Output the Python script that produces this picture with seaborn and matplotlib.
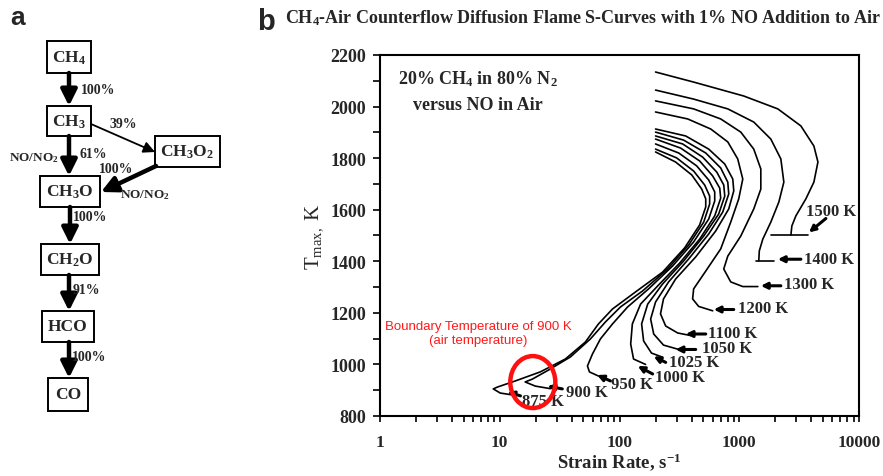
import numpy as np
import pandas as pd
import matplotlib
matplotlib.use("Agg")
import matplotlib.pyplot as plt
import seaborn as sns
from matplotlib.patches import Ellipse, Rectangle, FancyArrowPatch
from matplotlib.ticker import LogLocator, NullFormatter, FixedLocator, MultipleLocator

# ---------------- data ----------------
curve_names = ["1500 K", "1400 K", "1300 K", "1200 K", "1100 K", "1050 K",
               "1025 K", "1000 K", "950 K", "900 K", "875 K"]

strain_1500 = [200, 416, 1090, 2100, 3270, 4200, 4540, 4200, 3600, 2970, 2750, 2700]
T_1500 = [2134, 2095, 2041, 1991, 1925, 1847, 1785, 1707, 1642, 1576, 1537, 1502]
strain_1500_tail = [1835, 3725]
T_1500_tail = [1500, 1500]

strain_1400 = [200, 416, 802, 1322, 1835, 2225, 2357, 2142, 1835, 1573, 1470, 1456]
T_1400 = [2064, 2029, 1991, 1940, 1874, 1797, 1707, 1630, 1552, 1486, 1440, 1402]
strain_1400_tail = [1374, 1944]
T_1400_tail = [1400, 1400]

strain_1300 = [200, 416, 700, 1030, 1322, 1514, 1514, 1322, 1030, 802, 742, 849, 1070, 1430]
T_1300 = [2022, 1991, 1952, 1901, 1835, 1758, 1680, 1603, 1498, 1420, 1370, 1320, 1302, 1302]

strain_1200 = [200, 371, 578, 802, 971, 1070, 990, 849, 700, 525, 416, 408, 458, 600]
T_1200 = [1979, 1952, 1913, 1863, 1797, 1719, 1642, 1552, 1448, 1362, 1293, 1254, 1225, 1208]

strain_1100 = [200, 357, 556, 757, 883, 900, 817, 635, 433, 294, 233, 220, 243, 306, 393]
T_1100 = [1913, 1886, 1835, 1777, 1719, 1673, 1603, 1517, 1417, 1331, 1254, 1196, 1149, 1122, 1112]

strain_1050 = [200, 343, 525, 700, 802, 817, 728, 556, 378, 257, 200, 182, 193, 233, 324]
T_1050 = [1901, 1870, 1820, 1762, 1707, 1661, 1591, 1506, 1409, 1320, 1242, 1176, 1118, 1075, 1056]

strain_1025 = [200, 337, 495, 649, 742, 757, 673, 505, 343, 229, 172, 153, 159, 185, 229]
T_1025 = [1886, 1855, 1804, 1746, 1696, 1653, 1583, 1498, 1401, 1312, 1234, 1157, 1091, 1044, 1028]

strain_1000 = [200, 324, 467, 600, 687, 700, 624, 467, 318, 208, 150, 128, 124, 131, 165]
T_1000 = [1874, 1839, 1789, 1731, 1684, 1645, 1576, 1486, 1393, 1304, 1234, 1157, 1079, 1021, 1000]

strain_950 = [200, 312, 441, 556, 624, 624, 556, 416, 278, 175, 117, 87.4, 69.3, 59.4, 54, 56.1, 66.7]
T_950 = [1855, 1820, 1770, 1715, 1669, 1634, 1564, 1475, 1382, 1293, 1223, 1157, 1099, 1040, 994, 971, 955]

strain_900 = [200, 300, 416, 514, 566, 566, 505, 378, 252, 156, 102, 76.4, 57.2, 38.9, 25.5, 18.7, 16.3, 19.8, 26.5]
T_900 = [1835, 1801, 1750, 1696, 1653, 1622, 1552, 1463, 1370, 1285, 1223, 1165, 1099, 1029, 978, 943, 932, 916, 906]

strain_875 = [200, 294, 401, 486, 525, 525, 467, 350, 229, 136, 87.4, 66.7, 51.9, 35.3, 21.8, 13.5, 9.53, 8.83, 10.1, 13.5]
T_875 = [1824, 1785, 1735, 1680, 1642, 1611, 1541, 1452, 1358, 1281, 1215, 1157, 1087, 1021, 971, 936, 912, 905, 889, 880]

x_ticks = [1, 10, 100, 1000, 10000]
x_tick_labels = ["1", "10", "100", "1000", "10000"]
y_ticks = [800, 1000, 1200, 1400, 1600, 1800, 2000, 2200]

# label positions (strain, T), arrow start and end
label_xy = [(5830, 1595), (5610, 1410), (3820, 1310), (1573, 1217), (883, 1120),
            (786, 1062), (424, 1008), (318, 952), (128, 925), (53, 893), (23.1, 858)]
arrow_from = [(5290, 1566), (3270, 1408), (2225, 1305), (900, 1213), (525, 1118),
              (433, 1058), (243, 1008), (189, 963), (84, 936), (33.3, 905), (14.9, 878)]
arrow_to = [(3820, 1512), (2100, 1408), (1514, 1305), (612, 1213), (357, 1118),
            (294, 1058), (193, 1031), (142, 994), (65, 959), (25, 916), (11.6, 893)]

# flow chart (panel a)
species = [r"CH$_{\mathbf{4}}$", r"CH$_{\mathbf{3}}$", r"CH$_{\mathbf{3}}$O$_{\mathbf{2}}$",
           r"CH$_{\mathbf{3}}$O", r"CH$_{\mathbf{2}}$O", "HCO", "CO"]
edge_labels = ["100%", "61%", "39%", "100%", "100%", "91%", "100%"]

# ---------------- style ----------------
sns.set_theme(style="white")
plt.rcParams["font.family"] = ["Liberation Serif", "DejaVu Serif"]
plt.rcParams["mathtext.fontset"] = "custom"
plt.rcParams["mathtext.rm"] = "Liberation Serif"
plt.rcParams["mathtext.it"] = "Liberation Serif:italic"
plt.rcParams["mathtext.bf"] = "Liberation Serif:bold"
plt.rcParams["mathtext.default"] = "rm"

fig = plt.figure(figsize=(8.83, 4.77), dpi=100)

# overlay axes in pixel units for panel a and letters
ov = fig.add_axes([0, 0, 1, 1])
ov.set_xlim(0, 883)
ov.set_ylim(477, 0)
ov.axis("off")

box_geom = [(69, 58, 44, 32), (69, 122, 44, 30), (187, 152, 65, 31), (70, 192, 60, 31),
            (70, 260, 58, 31), (68, 327, 52, 31), (68, 395, 40, 33)]
for name, (cx, cy, w, h) in zip(species, box_geom):
    ov.add_patch(Rectangle((cx - w / 2, cy - h / 2), w, h, fill=False, lw=1.4, ec="black"))
    ov.text(cx, cy, name, ha="center", va="center", fontsize=12.5, fontweight="bold")

arrow_geom = [((69, 74), (69, 107), 3.2), ((69, 137), (69, 177), 3.2), ((91, 125), (155, 153), 1.3),
              ((156, 167), (101, 193), 3.2), ((70, 208), (70, 245), 3.2), ((69, 276), (69, 312), 3.2),
              ((69, 343), (69, 379), 3.2)]
for (a, b, lw) in arrow_geom:
    ov.add_patch(FancyArrowPatch(a, b, arrowstyle="-|>", lw=lw, color="black",
                                 mutation_scale=24 if lw > 2 else 17, shrinkA=0, shrinkB=0))

edge_label_pos = [(81, 90, "left"), (80, 155, "left"), (123, 124, "center"), (116, 170, "center"),
                  (73, 218, "left"), (73, 291, "left"), (72, 358, "left")]
for txt, (x, y, ha) in zip(edge_labels, edge_label_pos):
    ov.text(x, y, txt, ha=ha, va="center", fontsize=10, fontweight="bold")
ov.text(34, 158, r"NO/NO$_{\mathbf{2}}$", ha="center", va="center", fontsize=9.5, fontweight="bold")
ov.text(145, 195, r"NO/NO$_{\mathbf{2}}$", ha="center", va="center", fontsize=9.5, fontweight="bold")

ov.text(18, 18, "a", ha="center", va="center", fontsize=19, fontweight="bold",
        family=["Liberation Sans", "DejaVu Sans"])
ov.text(266, 22, "b", ha="center", va="center", fontsize=21, fontweight="bold",
        family=["Liberation Sans", "DejaVu Sans"])
ov.text(583, 18, r"CH$_{\mathbf{4}}$-Air Counterflow Diffusion Flame S-Curves with 1% NO Addition to Air",
        ha="center", va="center", fontsize=13, fontweight="bold")

# ---------------- main chart ----------------
ax = fig.add_axes([380 / 883, 1 - 417 / 477, (859 - 380) / 883, (417 - 56) / 477])

curves = {
    "1500 K": (strain_1500, T_1500), "1500 K tail": (strain_1500_tail, T_1500_tail),
    "1400 K": (strain_1400, T_1400), "1400 K tail": (strain_1400_tail, T_1400_tail),
    "1300 K": (strain_1300, T_1300), "1200 K": (strain_1200, T_1200),
    "1100 K": (strain_1100, T_1100), "1050 K": (strain_1050, T_1050),
    "1025 K": (strain_1025, T_1025), "1000 K": (strain_1000, T_1000),
    "950 K": (strain_950, T_950), "900 K": (strain_900, T_900), "875 K": (strain_875, T_875),
}
rows = []
for name, (s, t) in curves.items():
    for i, (a, b) in enumerate(zip(s, t)):
        rows.append({"curve": name, "order": i, "strain": a, "T": b})
df = pd.DataFrame(rows)

sns.lineplot(data=df, x="strain", y="T", units="curve", estimator=None, sort=False,
             color="black", lw=1.2, ax=ax, legend=False)

ax.set_xscale("log")
ax.set_xlim(1, 10000)
ax.set_ylim(800, 2200)
ax.xaxis.set_major_locator(FixedLocator(x_ticks))
ax.set_xticklabels(x_tick_labels)
ax.xaxis.set_minor_locator(LogLocator(base=10, subs=range(2, 10)))
ax.xaxis.set_minor_formatter(NullFormatter())
ax.set_yticks(y_ticks)
ax.yaxis.set_minor_locator(MultipleLocator(100))
ax.tick_params(axis="both", which="both", direction="out", color="black", width=1.2,
               bottom=True, left=True, top=False, right=False)
ax.tick_params(axis="y", which="major", length=5, pad=5, labelsize=13)
ax.tick_params(axis="y", which="minor", length=5)
ax.tick_params(axis="x", which="major", length=4, pad=9, labelsize=12.5)
ax.tick_params(axis="x", which="minor", length=4)
for lbl in ax.get_xticklabels() + ax.get_yticklabels():
    lbl.set_fontweight("bold")
for sp in ax.spines.values():
    sp.set_color("black")
    sp.set_linewidth(1.5)

ax.set_xlabel(r"Strain Rate, s$^{\mathbf{-1}}$", fontsize=13.5, fontweight="bold", labelpad=0)
ax.set_ylabel(r"T$_{\rm max,}$ K", fontsize=15, labelpad=4)

for txt, xy, fr, to in zip(curve_names, label_xy, arrow_from, arrow_to):
    ax.annotate("", xy=to, xytext=fr,
                arrowprops=dict(arrowstyle="-|>", lw=2.2, color="black", mutation_scale=9,
                                shrinkA=0, shrinkB=0))
    ax.text(xy[0], xy[1], txt, ha="center", va="center", fontsize=12, fontweight="bold")

ax.text(6.6, 2112, r"20% CH$_{\mathbf{4}}$ in 80% N$_{\mathbf{2}}$", ha="center", va="center",
        fontsize=13, fontweight="bold")
ax.text(6.6, 2007, "versus NO in Air", ha="center", va="center", fontsize=13, fontweight="bold")

ax.text(6.6, 1122, "Boundary Temperature of 900 K\n(air temperature)", ha="center", va="center",
        fontsize=9.5, color="#ff1a1a", family=["Liberation Sans", "DejaVu Sans"], linespacing=1.3)
ax.add_patch(Ellipse((0.319, 0.094), 0.094, 0.144, transform=ax.transAxes, fill=False,
                     ec="#ff1010", lw=3.2, zorder=5, clip_on=False))

fig.savefig("out.png", dpi=100)
